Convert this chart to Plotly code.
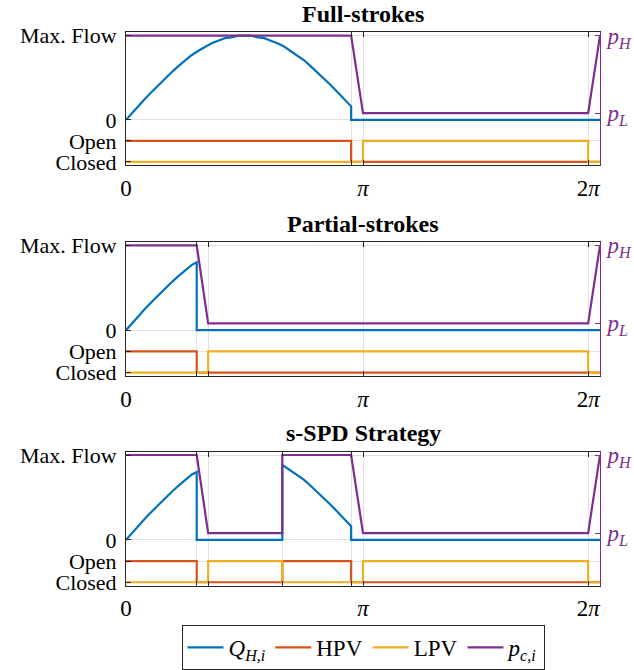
import plotly.graph_objects as go

# ---- crank angle of one pump cycle (axis units, 0..360) and flow / valve / pressure data ----
PANEL_TITLES = ["Full-strokes", "Partial-strokes", "s-SPD Strategy"]

# Normalised piston flow Q_H,i (1 = max. flow)
FULL_Q_ANGLE = [0, 5, 10, 15, 20, 25, 30, 35, 40, 45, 50, 55, 60, 65, 70, 75, 80, 85, 90,
                95, 100, 105, 110, 115, 120, 125, 130, 135, 140, 145, 150, 155, 160, 165, 170, 171, 171, 360]
FULL_Q = [0, 0.09, 0.17, 0.26, 0.34, 0.42, 0.50, 0.57, 0.64, 0.71, 0.77, 0.82, 0.87, 0.91, 0.94, 0.97, 0.98, 1.00, 1.00,
          1.00, 0.98, 0.97, 0.94, 0.91, 0.87, 0.82, 0.77, 0.71, 0.64, 0.57, 0.50, 0.42, 0.34, 0.26, 0.17, 0.16, 0, 0]

PARTIAL_Q_ANGLE = [0, 5, 10, 15, 20, 25, 30, 35, 40, 45, 50, 53.7, 53.7, 360]
PARTIAL_Q = [0, 0.09, 0.17, 0.26, 0.34, 0.42, 0.50, 0.57, 0.64, 0.71, 0.77, 0.80, 0, 0]

SSPD_Q_ANGLE = [0, 5, 10, 15, 20, 25, 30, 35, 40, 45, 50, 53.7, 53.7, 118.7, 118.7,
                120, 125, 130, 135, 140, 145, 150, 155, 160, 165, 170, 171, 171, 360]
SSPD_Q = [0, 0.09, 0.17, 0.26, 0.34, 0.42, 0.50, 0.57, 0.64, 0.71, 0.77, 0.80, 0, 0, 0.88,
          0.87, 0.82, 0.77, 0.71, 0.64, 0.57, 0.50, 0.42, 0.34, 0.26, 0.17, 0.16, 0, 0]

# Valve states (1 = open, 0 = closed), held until the next switching angle
FULL_HPV_ANGLE = [0, 171, 360]
FULL_HPV = [1, 0, 0]
FULL_LPV_ANGLE = [0, 180, 351, 360]
FULL_LPV = [0, 1, 0, 0]

PARTIAL_HPV_ANGLE = [0, 53.7, 360]
PARTIAL_HPV = [1, 0, 0]
PARTIAL_LPV_ANGLE = [0, 62.4, 351, 360]
PARTIAL_LPV = [0, 1, 0, 0]

SSPD_HPV_ANGLE = [0, 53.7, 118.7, 171, 360]
SSPD_HPV = [1, 0, 1, 0, 0]
SSPD_LPV_ANGLE = [0, 62.4, 118.7, 180, 351, 360]
SSPD_LPV = [0, 1, 0, 1, 0, 0]

# Chamber pressure p_c,i (1 = p_H, 0 = p_L)
FULL_P_ANGLE = [0, 171, 180, 351, 360]
FULL_P = [1, 1, 0, 0, 1]
PARTIAL_P_ANGLE = [0, 53.7, 62.4, 351, 360]
PARTIAL_P = [1, 1, 0, 0, 1]
SSPD_P_ANGLE = [0, 53.7, 62.4, 118.7, 118.7, 171, 180, 351, 360]
SSPD_P = [1, 1, 0, 0, 1, 1, 0, 0, 1]

# Labelled x ticks, plus unlabelled ticks at the valve switching angles
X_TICKS = [0, 180, 351]
X_TICK_TEXT = ["0", "<i>π</i>", "2<i>π</i>"]
FULL_EVENTS = [171]
PARTIAL_EVENTS = [53.7, 62.4]
SSPD_EVENTS = [53.7, 62.4, 118.7, 171]

Y_TICK_TEXT = ["Max. Flow", "0", "Open", "Closed"]
P_TICK_TEXT = ["<i>p</i><sub><i>L</i></sub>", "<i>p</i><sub><i>H</i></sub>"]

panels = [
    dict(q=(FULL_Q_ANGLE, FULL_Q), hpv=(FULL_HPV_ANGLE, FULL_HPV), lpv=(FULL_LPV_ANGLE, FULL_LPV),
         p=(FULL_P_ANGLE, FULL_P), events=FULL_EVENTS),
    dict(q=(PARTIAL_Q_ANGLE, PARTIAL_Q), hpv=(PARTIAL_HPV_ANGLE, PARTIAL_HPV), lpv=(PARTIAL_LPV_ANGLE, PARTIAL_LPV),
         p=(PARTIAL_P_ANGLE, PARTIAL_P), events=PARTIAL_EVENTS),
    dict(q=(SSPD_Q_ANGLE, SSPD_Q), hpv=(SSPD_HPV_ANGLE, SSPD_HPV), lpv=(SSPD_LPV_ANGLE, SSPD_LPV),
         p=(SSPD_P_ANGLE, SSPD_P), events=SSPD_EVENTS),
]

# ---- styling / layout ----
W, H = 634, 670
FONT = "Liberation Serif"
FS = 22
C_Q, C_HPV, C_LPV, C_P = "#0072BD", "#D95319", "#EDB120", "#7E2F8E"
AX_COL, GRID_COL = "#262626", "#e0e0e0"
LW = 2.2

OPEN_LEVEL, CLOSED_LEVEL = -0.25, -0.50      # where the valve traces sit on the left axis
Y_RANGE = [-0.542, 1.04]
P_LOW_LEVEL = 0.08                           # p_L position on the left axis scale
P_RANGE = [(Y_RANGE[0] - P_LOW_LEVEL) / (1 - P_LOW_LEVEL), (Y_RANGE[1] - P_LOW_LEVEL) / (1 - P_LOW_LEVEL)]

X_DOMAIN = [126 / W, 600 / W]
PANEL_PX = [(32.3, 165.7), (242.3, 376.7), (452.3, 586.7)]   # top/bottom of each axes box
TITLE_Y_PX = [14, 224, 434]


def valve_y(states):
    return [CLOSED_LEVEL + s * (OPEN_LEVEL - CLOSED_LEVEL) for s in states]


fig = go.Figure()
layout = dict(
    width=W, height=H, margin=dict(l=0, r=0, t=0, b=0),
    paper_bgcolor="white", plot_bgcolor="white",
    font=dict(family=FONT, size=FS, color="black"),
    showlegend=True,
    legend=dict(orientation="h", x=363 / W, xanchor="center", y=1 - 648 / H, yanchor="middle",
                bordercolor=AX_COL, borderwidth=1, bgcolor="white",
                font=dict(family=FONT, size=FS + 1), itemwidth=36, tracegroupgap=0),
    annotations=[],
)

for k, pan in enumerate(panels):
    xa = "x" if k == 0 else f"x{k + 1}"
    yl = "y" if k == 0 else f"y{2 * k + 1}"
    yr = f"y{2 * k + 2}"
    first = k == 0

    fig.add_trace(go.Scatter(x=pan["q"][0], y=pan["q"][1], mode="lines", name="<i>Q</i><sub><i>H,i</i></sub>",
                             line=dict(color=C_Q, width=LW), xaxis=xa, yaxis=yl, showlegend=first,
                             legendrank=1))
    fig.add_trace(go.Scatter(x=pan["hpv"][0], y=valve_y(pan["hpv"][1]), mode="lines", name="HPV",
                             line=dict(color=C_HPV, width=LW, shape="hv"), xaxis=xa, yaxis=yl,
                             showlegend=first, legendrank=2))
    fig.add_trace(go.Scatter(x=pan["lpv"][0], y=valve_y(pan["lpv"][1]), mode="lines", name="LPV",
                             line=dict(color=C_LPV, width=LW, shape="hv"), xaxis=xa, yaxis=yl,
                             showlegend=first, legendrank=3))
    fig.add_trace(go.Scatter(x=pan["p"][0], y=pan["p"][1], mode="lines", name="<i>p</i><sub><i>c,i</i></sub>",
                             line=dict(color=C_P, width=LW), xaxis=xa, yaxis=yr, showlegend=first,
                             legendrank=4))

    top_px, bot_px = PANEL_PX[k]
    dom = [1 - bot_px / H, 1 - top_px / H]
    xkey = "xaxis" if k == 0 else f"xaxis{k + 1}"
    ylkey = "yaxis" if k == 0 else f"yaxis{2 * k + 1}"
    yrkey = f"yaxis{2 * k + 2}"

    layout[xkey] = dict(domain=X_DOMAIN, anchor=yl, range=[0, 360], tickmode="array",
                        tickvals=X_TICKS, ticktext=X_TICK_TEXT,
                        ticks="inside", ticklen=5, tickcolor=AX_COL, mirror="ticks",
                        minor=dict(tickmode="array", tickvals=pan["events"], ticks="inside", ticklen=5,
                                   tickcolor=AX_COL, showgrid=True, gridcolor=GRID_COL, gridwidth=1),
                        showline=True, linecolor=AX_COL, linewidth=1,
                        showgrid=True, gridcolor=GRID_COL, gridwidth=1, zeroline=False,
                        tickfont=dict(family=FONT, size=FS + 1, color="black"),
                        ticklabelstandoff=2, automargin=False, fixedrange=True)
    layout[ylkey] = dict(domain=dom, anchor=xa, range=Y_RANGE, tickmode="array",
                         tickvals=[1, 0, OPEN_LEVEL, CLOSED_LEVEL], ticktext=Y_TICK_TEXT,
                         ticks="inside", ticklen=5, tickcolor=AX_COL,
                         showline=True, linecolor=AX_COL, linewidth=1,
                         showgrid=True, gridcolor=GRID_COL, gridwidth=1, zeroline=False,
                         tickfont=dict(family=FONT, size=FS, color="black"),
                         ticklabelstandoff=4, automargin=False, fixedrange=True)
    layout[yrkey] = dict(overlaying=yl, side="right", anchor=xa, range=P_RANGE, tickmode="array",
                         tickvals=[0, 1], ticktext=P_TICK_TEXT,
                         ticks="inside", ticklen=5, tickcolor=C_P,
                         showline=True, linecolor=C_P, linewidth=1,
                         showgrid=False, zeroline=False,
                         tickfont=dict(family=FONT, size=FS + 1, color=C_P),
                         ticklabelstandoff=2, automargin=False, fixedrange=True)

    layout["annotations"].append(dict(text=f"<b>{PANEL_TITLES[k]}</b>", x=363 / W, y=1 - TITLE_Y_PX[k] / H,
                                      xref="paper", yref="paper", xanchor="center", yanchor="middle",
                                      showarrow=False, font=dict(family=FONT, size=24, color="black")))

fig.update_layout(**layout)
fig.write_html("out.html")
